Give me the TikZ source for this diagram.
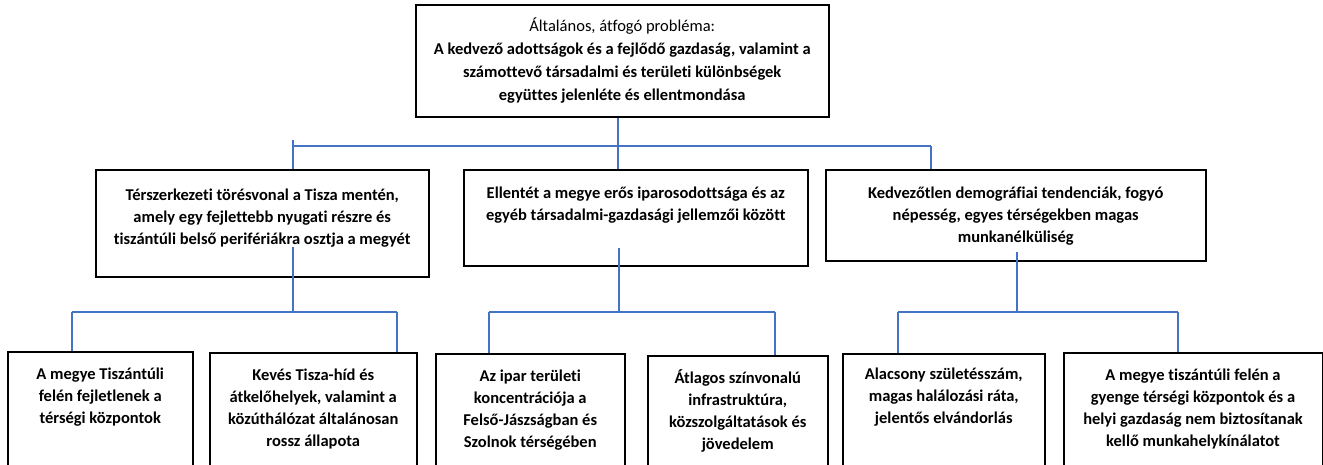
\documentclass[tikz,border=0pt]{standalone}
\usepackage{fontspec}
\setmainfont{Carlito}[Ligatures=NoCommon]
\usetikzlibrary{calc}

\definecolor{linkblue}{RGB}{68,114,196}
% text of a box: fixed size, set from the top
\newcommand{\celltext}[4][12pt]{\parbox[c][#3][t]{#2}{\centering\vspace*{#1}\strut #4}}

\begin{document}
\begin{tikzpicture}[x=1pt,y=-1pt,
	problem/.style={draw, line width=1.5pt, inner sep=0pt, anchor=north west,
		font=\bfseries\fontsize{16.5}{22}\selectfont},
	link/.style={draw=linkblue, line width=1.2pt}]
	\useasboundingbox (0,0) rectangle (1323,464);

	% main problem
	\node[problem, font=\bfseries\fontsize{16.5}{22.8}\selectfont] (top) at (415,4) {\celltext[11pt]{413pt}{112pt}{{\mdseries Általános, átfogó probléma:}\\
		A kedvező adottságok és a fejlődő gazdaság, valamint a\\
		számottevő társadalmi és területi különbségek\\
		együttes jelenléte és ellentmondása}};

	% second level
	\node[problem] (mid1) at (95,169) {\celltext[15pt]{333pt}{107pt}{Térszerkezeti törésvonal a Tisza mentén,\\
		amely egy fejlettebb nyugati részre és\\
		tiszántúli belső perifériákra osztja a megyét}};
	\node[problem] (mid2) at (463,169) {\celltext[13pt]{344pt}{96pt}{Ellentét a megye erős iparosodottsága és az\\
		egyéb társadalmi-gazdasági jellemzői között}};
	\node[problem] (mid3) at (825,169) {\celltext[13pt]{380pt}{91pt}{Kedvezőtlen demográfiai tendenciák, fogyó\\
		népesség, egyes térségekben magas\\
		munkanélküliség}};

	% third level
	\node[problem] (bot1) at (7,351) {\celltext{185pt}{150pt}{A megye Tiszántúli\\ felén fejletlenek a\\ térségi központok}};
	\node[problem] (bot2) at (209,352) {\celltext{207pt}{150pt}{Kevés Tisza-híd és\\ átkelőhelyek, valamint a\\ közúthálózat általánosan\\ rossz állapota}};
	\node[problem] (bot3) at (435,353) {\celltext{189pt}{150pt}{Az ipar területi\\ koncentrációja a\\ Felső-Jászságban és\\ Szolnok térségében}};
	\node[problem] (bot4) at (647,355) {\celltext{180pt}{150pt}{Átlagos színvonalú\\ infrastruktúra,\\ közszolgáltatások és\\ jövedelem}};
	\node[problem] (bot5) at (842,353) {\celltext[10pt]{202pt}{150pt}{Alacsony születésszám,\\ magas halálozási ráta,\\ jelentős elvándorlás}};
	\node[problem] (bot6) at (1063,352) {\celltext{258.5pt}{150pt}{A megye tiszántúli felén a\\ gyenge térségi központok és a\\ helyi gazdaság nem biztosítanak\\ kellő munkahelykínálatot}};

	% connectors
	\coordinate (hub) at (618,146);
	\coordinate (barL) at (293,146);
	\coordinate (barR) at (931,146);
	\draw[link] (top.south -| hub) -- (mid2.north -| hub);
	\draw[link] (barL) -- (barR);
	\draw[link] ($(barL)+(0,-6)$) -- (mid1.north -| barL);
	\draw[link] (barR) -- (mid3.north -| barR);

	\foreach \x/\ys/\l/\r/\a/\b in {293/247/72/397/bot1/bot2, 619/248/489/775/bot3/bot4, 1017/252/898/1178/bot5/bot6}{
		\draw[link] (\x,\ys) -- (\x,312);
		\draw[link] (\l,312) -- (\r,312);
		\draw[link] (\l,312) -- (\a.north -| \l,312);
		\draw[link] (\r,312) -- (\b.north -| \r,312);
	}
\end{tikzpicture}
\end{document}
